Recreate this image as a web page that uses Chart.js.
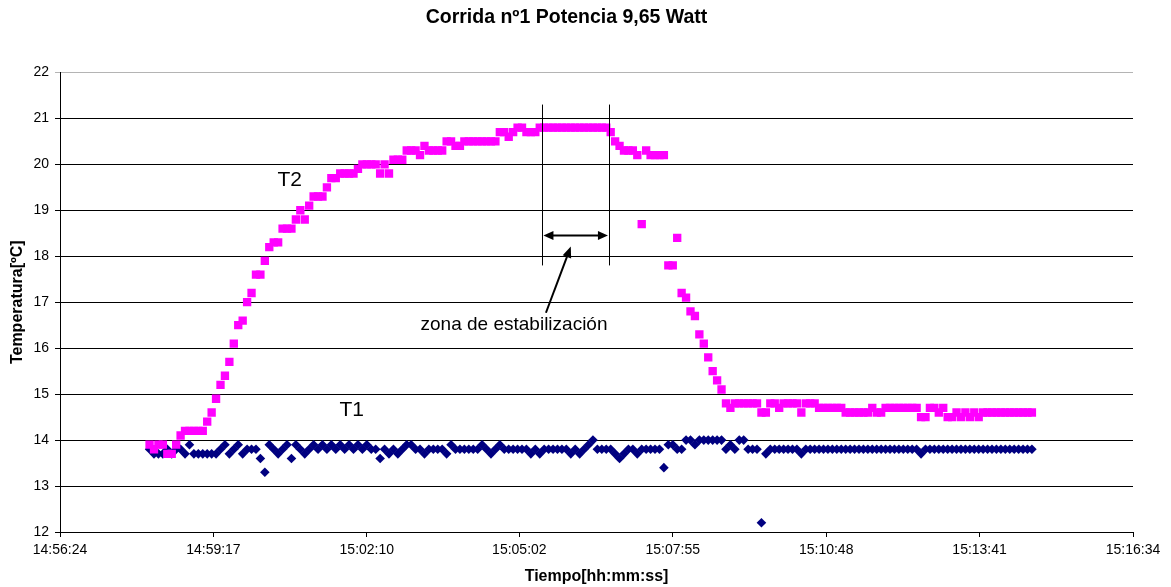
<!DOCTYPE html>
<html lang="es">
<head>
<meta charset="utf-8">
<title>Corrida nº1 Potencia 9,65 Watt</title>
<script src="https://cdn.jsdelivr.net/npm/chart.js@4.4.1/dist/chart.umd.min.js"></script>
<style>
  html, body { margin: 0; padding: 0; background: #fff; }
  #grafico { display: block; }
</style>
</head>
<body>
<canvas id="grafico" width="1171" height="587"></canvas>
<script>
// muestras cada 5 s
const tiempos = [
  "14:58:05","14:58:10","14:58:15","14:58:20","14:58:25","14:58:30","14:58:35","14:58:40","14:58:45","14:58:50","14:58:55",
  "14:59:00","14:59:05","14:59:10","14:59:15","14:59:20","14:59:25","14:59:30","14:59:35","14:59:40","14:59:45","14:59:50","14:59:55",
  "15:00:00","15:00:05","15:00:10","15:00:15","15:00:20","15:00:25","15:00:30","15:00:35","15:00:40","15:00:45","15:00:50","15:00:55",
  "15:01:00","15:01:05","15:01:10","15:01:15","15:01:20","15:01:25","15:01:30","15:01:35","15:01:40","15:01:45","15:01:50","15:01:55",
  "15:02:00","15:02:05","15:02:10","15:02:15","15:02:20","15:02:25","15:02:30","15:02:35","15:02:40","15:02:45","15:02:50","15:02:55",
  "15:03:00","15:03:05","15:03:10","15:03:15","15:03:20","15:03:25","15:03:30","15:03:35","15:03:40","15:03:45","15:03:50","15:03:55",
  "15:04:00","15:04:05","15:04:10","15:04:15","15:04:20","15:04:25","15:04:30","15:04:35","15:04:40","15:04:45","15:04:50","15:04:55",
  "15:05:00","15:05:05","15:05:10","15:05:15","15:05:20","15:05:25","15:05:30","15:05:35","15:05:40","15:05:45","15:05:50","15:05:55",
  "15:06:00","15:06:05","15:06:10","15:06:15","15:06:20","15:06:25","15:06:30","15:06:35","15:06:40","15:06:45","15:06:50","15:06:55",
  "15:07:00","15:07:05","15:07:10","15:07:15","15:07:20","15:07:25","15:07:30","15:07:35","15:07:40","15:07:45","15:07:50","15:07:55",
  "15:08:00","15:08:05","15:08:10","15:08:15","15:08:20","15:08:25","15:08:30","15:08:35","15:08:40","15:08:45","15:08:50","15:08:55",
  "15:09:00","15:09:05","15:09:10","15:09:15","15:09:20","15:09:25","15:09:30","15:09:35","15:09:40","15:09:45","15:09:50","15:09:55",
  "15:10:00","15:10:05","15:10:10","15:10:15","15:10:20","15:10:25","15:10:30","15:10:35","15:10:40","15:10:45","15:10:50","15:10:55",
  "15:11:00","15:11:05","15:11:10","15:11:15","15:11:20","15:11:25","15:11:30","15:11:35","15:11:40","15:11:45","15:11:50","15:11:55",
  "15:12:00","15:12:05","15:12:10","15:12:15","15:12:20","15:12:25","15:12:30","15:12:35","15:12:40","15:12:45","15:12:50","15:12:55",
  "15:13:00","15:13:05","15:13:10","15:13:15","15:13:20","15:13:25","15:13:30","15:13:35","15:13:40","15:13:45","15:13:50","15:13:55",
  "15:14:00","15:14:05","15:14:10","15:14:15","15:14:20","15:14:25","15:14:30","15:14:35","15:14:40"
];

const t1 = [
  13.8,13.7,13.7,13.7,13.8,13.7,13.8,13.8,13.7,13.9,
  13.7,13.7,13.7,13.7,13.7,13.7,13.8,13.9,13.7,13.8,
  13.9,13.7,13.8,13.8,13.8,13.6,13.3,13.9,13.8,13.7,
  13.8,13.9,13.6,13.9,13.8,13.7,13.8,13.9,13.8,13.9,
  13.8,13.9,13.8,13.9,13.8,13.9,13.8,13.9,13.8,13.9,
  13.8,13.8,13.6,13.8,13.7,13.8,13.7,13.8,13.9,13.9,
  13.8,13.8,13.7,13.8,13.8,13.8,13.8,13.7,13.9,13.8,
  13.8,13.8,13.8,13.8,13.8,13.9,13.8,13.7,13.8,13.9,
  13.8,13.8,13.8,13.8,13.8,13.8,13.7,13.8,13.7,13.8,
  13.8,13.8,13.8,13.8,13.8,13.7,13.8,13.7,13.8,13.9,
  14.0,13.8,13.8,13.8,13.8,13.7,13.6,13.7,13.8,13.8,
  13.7,13.8,13.8,13.8,13.8,13.8,13.4,13.9,13.9,13.8,
  13.8,14.0,14.0,13.9,14.0,14.0,14.0,14.0,14.0,14.0,
  13.8,13.9,13.8,14.0,14.0,13.8,13.8,13.8,12.2,13.7,
  13.8,13.8,13.8,13.8,13.8,13.8,13.8,13.7,13.8,13.8,
  13.8,13.8,13.8,13.8,13.8,13.8,13.8,13.8,13.8,13.8,
  13.8,13.8,13.8,13.8,13.8,13.8,13.8,13.8,13.8,13.8,
  13.8,13.8,13.8,13.8,13.7,13.8,13.8,13.8,13.8,13.8,
  13.8,13.8,13.8,13.8,13.8,13.8,13.8,13.8,13.8,13.8,
  13.8,13.8,13.8,13.8,13.8,13.8,13.8,13.8,13.8,13.8
];

const t2 = [
  13.9,13.8,13.9,13.9,13.7,13.7,13.9,14.1,14.2,14.2,
  14.2,14.2,14.2,14.4,14.6,14.9,15.2,15.4,15.7,16.1,
  16.5,16.6,17.0,17.2,17.6,17.6,17.9,18.2,18.3,18.3,
  18.6,18.6,18.6,18.8,19.0,18.8,19.1,19.3,19.3,19.3,
  19.5,19.7,19.7,19.8,19.8,19.8,19.8,19.9,20.0,20.0,
  20.0,20.0,19.8,20.0,19.8,20.1,20.1,20.1,20.3,20.3,
  20.3,20.2,20.4,20.3,20.3,20.3,20.3,20.5,20.5,20.4,
  20.4,20.5,20.5,20.5,20.5,20.5,20.5,20.5,20.5,20.7,
  20.7,20.6,20.7,20.8,20.8,20.7,20.7,20.7,20.8,20.8,
  20.8,20.8,20.8,20.8,20.8,20.8,20.8,20.8,20.8,20.8,
  20.8,20.8,20.8,20.8,20.7,20.5,20.4,20.3,20.3,20.3,
  20.2,18.7,20.3,20.2,20.2,20.2,20.2,17.8,17.8,18.4,
  17.2,17.1,16.8,16.7,16.3,16.1,15.8,15.5,15.3,15.1,
  14.8,14.7,14.8,14.8,14.8,14.8,14.8,14.8,14.6,14.6,
  14.8,14.8,14.7,14.8,14.8,14.8,14.8,14.6,14.8,14.8,
  14.8,14.7,14.7,14.7,14.7,14.7,14.7,14.6,14.6,14.6,
  14.6,14.6,14.6,14.7,14.6,14.6,14.7,14.7,14.7,14.7,
  14.7,14.7,14.7,14.7,14.5,14.5,14.7,14.7,14.6,14.7,
  14.5,14.5,14.6,14.5,14.6,14.5,14.6,14.5,14.6,14.6,
  14.6,14.6,14.6,14.6,14.6,14.6,14.6,14.6,14.6,14.6
];

const xTickLabels = ["14:56:24", "14:59:17", "15:02:10", "15:05:02", "15:07:55", "15:10:48", "15:13:41", "15:16:34"];
const yTickValues = [12, 13, 14, 15, 16, 17, 18, 19, 20, 21, 22];

// notas dibujadas sobre el grafico (en unidades de los ejes)
const zonaInicio = "15:05:28";
const zonaFin = "15:06:43";
const zonaArriba = 21.3;
const zonaAbajo = 17.8;
const zonaFlechaY = 18.45;
const textoZona = { texto: "zona de estabilización", t: "15:04:56", v: 16.5 };
const flechaZona = { desde: ["15:05:32", 16.77], hasta: ["15:06:00", 18.21] };
const etiquetasSerie = [
  { texto: "T2", t: "15:00:43", v: 19.65 },
  { texto: "T1", t: "15:01:53", v: 14.66 }
];

const FONT = "'Liberation Sans', Arial, sans-serif";

const aSegundos = (hms) => {
  const [h, m, s] = hms.split(":").map(Number);
  return h * 3600 + m * 60 + s;
};
const xTickValues = xTickLabels.map(aSegundos);
const puntos = (serie) => serie.map((v, i) => ({ x: aSegundos(tiempos[i]), y: v }));

function punta(ctx, x0, y0, x1, y1, largo, medio) {
  const a = Math.atan2(y1 - y0, x1 - x0);
  const bx = x1 - largo * Math.cos(a);
  const by = y1 - largo * Math.sin(a);
  ctx.beginPath();
  ctx.moveTo(x1, y1);
  ctx.lineTo(bx + medio * Math.sin(a), by - medio * Math.cos(a));
  ctx.lineTo(bx - medio * Math.sin(a), by + medio * Math.cos(a));
  ctx.closePath();
  ctx.fill();
}

const anotaciones = {
  id: "anotaciones",
  afterDatasetsDraw(chart) {
    const { ctx, scales: { x, y } } = chart;
    const px = (t) => x.getPixelForValue(aSegundos(t));
    const py = (v) => y.getPixelForValue(v);
    ctx.save();
    ctx.strokeStyle = "#000";
    ctx.fillStyle = "#000";

    // lineas verticales de la zona
    ctx.lineWidth = 1;
    [zonaInicio, zonaFin].forEach(t => {
      const xx = Math.round(px(t)) + 0.5;
      ctx.beginPath();
      ctx.moveTo(xx, py(zonaArriba));
      ctx.lineTo(xx, py(zonaAbajo));
      ctx.stroke();
    });

    // flecha doble
    const xa = px(zonaInicio) + 1, xb = px(zonaFin) - 1, yf = py(zonaFlechaY);
    ctx.lineWidth = 2;
    ctx.beginPath();
    ctx.moveTo(xa + 6, yf);
    ctx.lineTo(xb - 6, yf);
    ctx.stroke();
    punta(ctx, xb, yf, xa, yf, 10, 4.5);
    punta(ctx, xa, yf, xb, yf, 10, 4.5);

    // flecha desde el texto
    const [t0, v0] = flechaZona.desde, [tf, vf] = flechaZona.hasta;
    const x0 = px(t0), y0 = py(v0), x1 = px(tf), y1 = py(vf);
    const a = Math.atan2(y1 - y0, x1 - x0);
    ctx.beginPath();
    ctx.moveTo(x0, y0);
    ctx.lineTo(x1 - 7 * Math.cos(a), y1 - 7 * Math.sin(a));
    ctx.stroke();
    punta(ctx, x0, y0, x1, y1, 11, 4.5);

    // textos
    ctx.textAlign = "center";
    ctx.textBaseline = "middle";
    ctx.font = `19px ${FONT}`;
    ctx.fillText(textoZona.texto, px(textoZona.t), py(textoZona.v));
    ctx.font = `21px ${FONT}`;
    etiquetasSerie.forEach(e => ctx.fillText(e.texto, px(e.t), py(e.v)));
    ctx.restore();
  }
};

Chart.defaults.font.family = FONT;
Chart.defaults.color = "#000";

new Chart(document.getElementById("grafico"), {
  type: "scatter",
  data: {
    datasets: [
      {
        label: "T1",
        data: puntos(t1),
        order: 2,
        pointStyle: "rectRot",
        pointRadius: 4.8,
        pointBorderWidth: 0,
        backgroundColor: "#000080",
        borderColor: "#000080"
      },
      {
        label: "T2",
        data: puntos(t2),
        order: 1,
        pointStyle: "rect",
        pointRadius: 5.9,
        pointBorderWidth: 0,
        backgroundColor: "#ff00ff",
        borderColor: "#ff00ff"
      }
    ]
  },
  options: {
    responsive: false,
    animation: false,
    events: [],
    layout: { padding: { left: 0, right: 38, top: 0, bottom: 0 } },
    plugins: {
      legend: { display: false },
      tooltip: { enabled: false },
      title: {
        display: true,
        text: "Corrida nº1 Potencia 9,65 Watt",
        color: "#000",
        font: { size: 19.5, weight: "bold" },
        padding: { top: 6, bottom: 43 }
      }
    },
    scales: {
      x: {
        type: "linear",
        min: xTickValues[0],
        max: xTickValues[xTickValues.length - 1],
        afterBuildTicks: (scale) => { scale.ticks = xTickValues.map(v => ({ value: v })); },
        afterFit: (scale) => { scale.height = 55; },
        ticks: {
          autoSkip: false,
          maxRotation: 0,
          padding: 5,
          font: { size: 14 },
          callback: (v, i) => xTickLabels[i]
        },
        grid: { drawOnChartArea: false, drawTicks: true, tickLength: 5, color: "#000" },
        border: { display: true, color: "#000", width: 1 },
        title: {
          display: true,
          text: "Tiempo[hh:mm:ss]",
          font: { size: 16, weight: "bold" },
          padding: { top: 0, bottom: 1 }
        }
      },
      y: {
        min: yTickValues[0],
        max: yTickValues[yTickValues.length - 1],
        afterBuildTicks: (scale) => { scale.ticks = yTickValues.map(v => ({ value: v })); },
        afterFit: (scale) => { scale.width = 60; },
        ticks: { padding: 6, font: { size: 14 } },
        grid: {
          color: (c) => (c.tick && c.tick.value === 22 ? "#b4b4b4" : "#000"),
          tickLength: 5
        },
        border: { display: true, color: "#000", width: 1 },
        title: {
          display: true,
          text: "Temperatura[ºC]",
          font: { size: 16, weight: "bold" },
          padding: { top: 8, bottom: 0 }
        }
      }
    }
  },
  plugins: [anotaciones]
});
</script>
</body>
</html>
